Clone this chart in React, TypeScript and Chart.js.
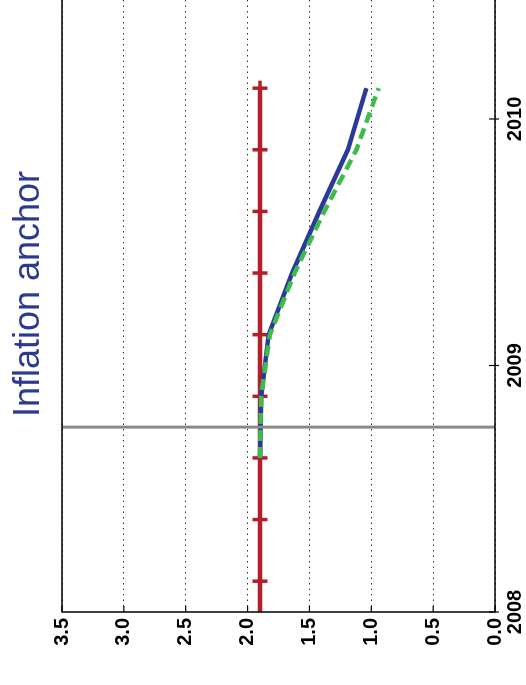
import React, { useEffect, useRef } from "react";
import { Chart, registerables } from "chart.js";

Chart.register(...registerables);

const titleText = "Inflation anchor";
const yearMin = 2008;
const yearMax = 2010.58;
const valueMin = 0;
const valueMax = 3.5;

const anchorDates = [2007.875, 2008.125, 2008.375, 2008.625, 2008.875, 2009.125, 2009.375, 2009.625, 2009.875, 2010.125];
const anchorValues = [1.9, 1.9, 1.9, 1.9, 1.9, 1.9, 1.9, 1.9, 1.9, 1.9];

const forecastDates = [2008.625, 2008.875, 2009.125, 2009.375, 2009.625, 2009.875, 2010.125];
const blueValues = [1.9, 1.89, 1.83, 1.64, 1.42, 1.19, 1.04];
const greenValues = [1.9, 1.89, 1.82, 1.62, 1.38, 1.12, 0.94];

const eventDates = [2008.75, 2008.75];
const eventValues = [0, 3.5];

const FONT = "'Liberation Sans', Arial, Helvetica, sans-serif";

const zip = (xs: number[], ys: number[]) => xs.map((x, i) => ({ x, y: ys[i] }));

const framePlugin = {
  id: "frame",
  afterDraw(chart: any) {
    const { ctx, chartArea, scales } = chart;
    const { left, right, top, bottom } = chartArea;
    ctx.save();
    ctx.strokeStyle = "#000";
    ctx.lineWidth = 1.5;
    ctx.strokeRect(left, top, right - left, bottom - top);
    ctx.lineWidth = 1.2;
    scales.y.ticks.forEach((t: any) => {
      const py = scales.y.getPixelForValue(t.value);
      ctx.beginPath();
      ctx.moveTo(left, py);
      ctx.lineTo(left + 6, py);
      ctx.stroke();
    });
    scales.x.ticks.forEach((t: any) => {
      const px = scales.x.getPixelForValue(t.value);
      ctx.beginPath();
      ctx.moveTo(px, bottom - 6);
      ctx.lineTo(px, bottom + 4);
      ctx.stroke();
    });
    ctx.fillStyle = "#2B3990";
    ctx.font = `36px ${FONT}`;
    ctx.textAlign = "center";
    ctx.textBaseline = "alphabetic";
    ctx.fillText(titleText, (left + right) / 2, 39);
    ctx.restore();
  },
};

export default function App() {
  const ref = useRef<HTMLCanvasElement | null>(null);

  useEffect(() => {
    if (!ref.current) return;
    const chart = new Chart(ref.current, {
      type: "line",
      data: {
        datasets: [
          {
            label: "event",
            data: zip(eventDates, eventValues),
            borderColor: "#8A8A8A",
            borderWidth: 3,
            pointRadius: 0,
            order: 0,
          },
          {
            label: "green",
            data: zip(forecastDates, greenValues),
            borderColor: "#3DBB4B",
            borderWidth: 4.5,
            borderDash: [11, 6],
            pointRadius: 0,
            order: 1,
          },
          {
            label: "blue",
            data: zip(forecastDates, blueValues),
            borderColor: "#2B3A9A",
            borderWidth: 4.5,
            pointRadius: 0,
            order: 2,
          },
          {
            label: "anchor",
            data: zip(anchorDates, anchorValues),
            borderColor: "#B3202A",
            borderWidth: 4.5,
            pointStyle: "cross",
            pointRadius: 7.5,
            pointBorderWidth: 3.5,
            pointBorderColor: "#B3202A",
            clip: 0,
            order: 3,
          },
        ] as any,
      },
      options: {
        animation: false,
        responsive: false,
        devicePixelRatio: 1,
        parsing: false,
        layout: { padding: { top: 62, left: 0, right: 6, bottom: 0 } },
        plugins: {
          legend: { display: false },
          tooltip: { enabled: false },
          title: { display: false },
        },
        scales: {
          x: {
            type: "linear",
            position: "bottom",
            min: yearMin,
            max: yearMax,
            afterFit: (s: any) => {
              s.height = 31;
            },
            grid: { display: false },
            border: { display: false },
            ticks: {
              stepSize: 1,
              includeBounds: false,
              padding: 0,
              maxRotation: 0,
              color: "#000",
              font: { size: 20, weight: "bold", family: FONT },
              callback: (v: any) => `${v}`,
            },
          },
          y: {
            type: "linear",
            min: valueMin,
            max: valueMax,
            afterFit: (s: any) => {
              s.width = 73;
            },
            grid: { drawTicks: false, color: "#333", lineWidth: 1 },
            border: { display: false, dash: [1.5, 4] },
            ticks: {
              stepSize: 0.5,
              padding: 6,
              color: "#000",
              font: { size: 20, weight: "bold", family: FONT },
              callback: (v: any) => Number(v).toFixed(1),
            },
          },
        },
      } as any,
      plugins: [framePlugin],
    });
    return () => chart.destroy();
  }, []);

  return (
    <div
      style={{
        position: "fixed",
        left: 0,
        top: 0,
        width: 526,
        height: 685,
        overflow: "hidden",
        background: "#fff",
      }}
    >
      <div
        style={{
          position: "absolute",
          left: 0,
          top: 0,
          width: 720,
          height: 526,
          transformOrigin: "0 0",
          transform: "translateY(685px) rotate(-90deg)",
        }}
      >
        <canvas ref={ref} width={720} height={526} style={{ width: 720, height: 526, display: "block" }} />
      </div>
    </div>
  );
}
